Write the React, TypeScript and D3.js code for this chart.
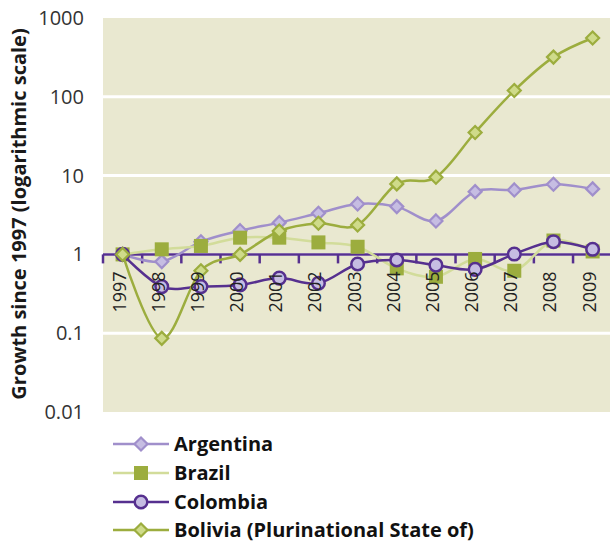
import React from "react";
import * as d3 from "d3";

const years = ["1997","1998","1999","2000","2001","2002","2003","2004","2005","2006","2007","2008","2009"];
const argentina = [1, 0.81, 1.45, 2.0, 2.53, 3.33, 4.37, 4.04, 2.66, 6.26, 6.58, 7.77, 6.78];
const brazil = [1, 1.16, 1.28, 1.63, 1.63, 1.42, 1.25, 0.665, 0.52, 0.875, 0.62, 1.5, 1.09];
const colombia = [1, 0.39, 0.39, 0.41, 0.5, 0.43, 0.755, 0.85, 0.73, 0.645, 1.01, 1.45, 1.16];
const bolivia = [1, 0.086, 0.62, 1.0, 1.98, 2.48, 2.36, 7.85, 9.55, 35.2, 120, 319, 557];
const yTicks = [0.01, 0.1, 1, 10, 100, 1000];
const yTickLabels = ["0.01", "0.1", "1", "10", "100", "1000"];
const yTitle = "Growth since 1997 (logarithmic scale)";

type Marker = "diamond" | "square" | "circle";
interface Series {
  name: string;
  values: number[];
  line: string;
  lineWidth: number;
  marker: Marker;
  fill: string;
  stroke: string;
}

const series: Series[] = [
  { name: "Argentina", values: argentina, line: "#a08fcb", lineWidth: 2.5, marker: "diamond", fill: "#c6bde2", stroke: "#a08fcb" },
  { name: "Brazil", values: brazil, line: "#d2dc9a", lineWidth: 2.5, marker: "square", fill: "#9cad3e", stroke: "#9cad3e" },
  { name: "Colombia", values: colombia, line: "#56308f", lineWidth: 2.5, marker: "circle", fill: "#c6bde2", stroke: "#56308f" },
  { name: "Bolivia (Plurinational State of)", values: bolivia, line: "#9cad3e", lineWidth: 2.5, marker: "diamond", fill: "#cfdb8a", stroke: "#9cad3e" },
];

const W = 610;
const H = 542;
const plotLeft = 103;
const plotTop = 18;
const plotBottom = 412;
const bandW = 39.17;
const font = "'Open Sans', 'Noto Sans', sans-serif";

function MarkerShape({ m, x, y, fill, stroke }: { m: Marker; x: number; y: number; fill: string; stroke: string }) {
  if (m === "diamond") {
    const r = 6.5;
    return (
      <path
        d={`M${x},${y - r}L${x + r},${y}L${x},${y + r}L${x - r},${y}Z`}
        fill={fill}
        stroke={stroke}
        strokeWidth={2.2}
      />
    );
  }
  if (m === "square") {
    const s = 14;
    return <rect x={x - s / 2} y={y - s / 2} width={s} height={s} fill={fill} stroke="none" />;
  }
  return <circle cx={x} cy={y} r={6.3} fill={fill} stroke={stroke} strokeWidth={2.5} />;
}

export default function App() {
  const x = d3.scaleBand<string>().domain(years).range([plotLeft, plotLeft + bandW * years.length]);
  const y = d3.scaleLog().domain([0.01, 1000]).range([plotBottom, plotTop]);
  const cx = (yr: string) => (x(yr) as number) + x.bandwidth() / 2;
  const axisY = y(1);

  const line = d3
    .line<number>()
    .x((_, i) => cx(years[i]))
    .y((v) => y(v))
    .curve(d3.curveCardinal.tension(0));

  const legendRows = [444, 473, 502, 530];

  return (
    <svg width={W} height={H} style={{ position: "absolute", left: 0, top: 0, background: "#fff" }}>
      <defs>
        <clipPath id="plot-clip">
          <rect x={plotLeft} y={plotTop - 10} width={W - plotLeft} height={plotBottom - plotTop + 20} />
        </clipPath>
      </defs>
      <rect x={plotLeft} y={plotTop} width={W - plotLeft} height={plotBottom - plotTop} fill="#e9e8d0" />
      {yTicks.slice(1, -1).map((t) => (
        <line key={t} x1={plotLeft} x2={W} y1={y(t)} y2={y(t)} stroke="#ffffff" strokeWidth={3} />
      ))}
      {yTicks.map((t, i) => (
        <text
          key={t}
          x={84}
          y={y(t)}
          dy="0.35em"
          textAnchor="end"
          fontFamily={font}
          fontSize={20}
          fill="#333"
        >
          {yTickLabels[i]}
        </text>
      ))}
      <text
        transform={`translate(26, 214) rotate(-90)`}
        textAnchor="middle"
        fontFamily={font}
        fontWeight="bold"
        fontSize={20}
        fill="#1a1a1a"
      >
        {yTitle}
      </text>

      {/* category axis drawn at y = 1 */}
      <line x1={plotLeft} x2={W} y1={axisY} y2={axisY} stroke="#56308f" strokeWidth={2.5} />
      {years.map((yr) => (
        <line
          key={yr}
          x1={x(yr) as number}
          x2={x(yr) as number}
          y1={axisY}
          y2={axisY + 9}
          stroke="#56308f"
          strokeWidth={2.5}
        />
      ))}

      <g clipPath="url(#plot-clip)">
        {series.map((s) => (
          <g key={s.name}>
            <path d={line(s.values) || ""} fill="none" stroke={s.line} strokeWidth={s.lineWidth} />
            {s.values.map((v, i) => (
              <MarkerShape key={i} m={s.marker} x={cx(years[i])} y={y(v)} fill={s.fill} stroke={s.stroke} />
            ))}
          </g>
        ))}
      </g>

      {years.map((yr) => (
        <text
          key={yr}
          transform={`translate(${cx(yr) + 3}, ${axisY + 17}) rotate(-90)`}
          textAnchor="end"
          fontFamily={font}
          fontSize={18}
          fill="#222"
        >
          {yr}
        </text>
      ))}

      {series.map((s, i) => (
        <g key={s.name}>
          <line x1={113} x2={169} y1={legendRows[i]} y2={legendRows[i]} stroke={s.line} strokeWidth={2.5} />
          <MarkerShape m={s.marker} x={141} y={legendRows[i]} fill={s.fill} stroke={s.stroke} />
          <text
            x={174}
            y={legendRows[i]}
            dy="0.35em"
            fontFamily={font}
            fontWeight="bold"
            fontSize={20}
            fill="#111"
          >
            {s.name}
          </text>
        </g>
      ))}
    </svg>
  );
}
